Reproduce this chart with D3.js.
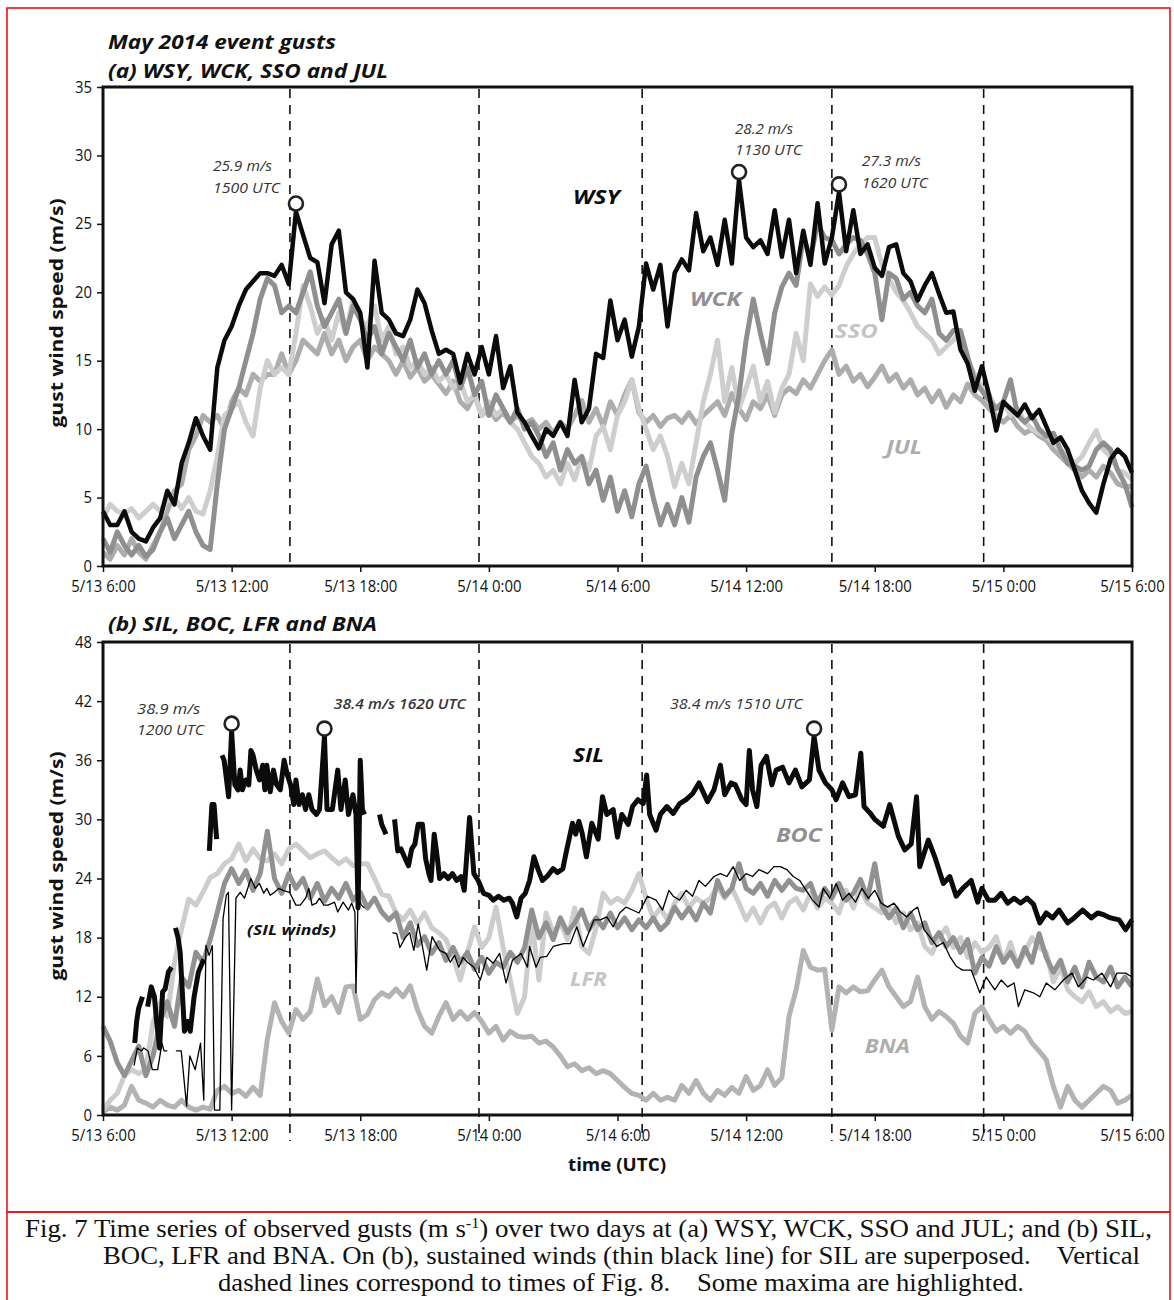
<!DOCTYPE html>
<html><head><meta charset="utf-8">
<script src="https://cdn.jsdelivr.net/npm/d3@7"></script>
<style>body{margin:0;background:#fff} svg{display:block}</style>
</head><body>
<svg id="c" width="1174" height="1300"></svg>
<script>
// ---------- DATA ----------
const timeLabels = ["5/13 6:00","5/13 12:00","5/13 18:00","5/14 0:00","5/14 6:00","5/14 12:00","5/14 18:00","5/15 0:00","5/15 6:00"];
const tickHours = [0,6,12,18,24,30,36,42,48];
const yTicksTop = [0,5,10,15,20,25,30,35];
const yTicksBot = [0,6,12,18,24,30,36,42,48];
const dashedHours = [8.72,17.54,25.15,34.0,41.08];
const stepHours = 1/3; // 20-minute samples, hours since 5/13 6:00 UTC

const wsy = [
4.0,3.0,3.0,4.0,2.5,2.0,1.8,2.8,3.5,5.5,4.5,7.5,
9.0,10.8,9.5,8.5,14.5,16.5,17.5,19.0,20.2,20.8,21.4,21.4,
21.2,22.0,20.6,25.9,24.2,22.5,22.2,19.2,23.5,24.5,20.0,19.5,
18.5,14.5,22.3,18.5,18.0,17.0,16.8,18.0,20.2,19.2,17.2,15.5,
15.8,15.5,13.4,15.5,14.0,16.0,14.0,16.8,13.0,14.6,11.2,10.5,
9.5,8.6,10.0,9.5,10.5,9.5,13.6,10.5,11.5,15.5,15.2,19.4,
16.5,18.0,15.3,17.5,22.1,20.2,22.0,17.5,21.4,22.4,21.6,25.8,
23.0,24.0,22.0,25.3,22.1,28.2,24.0,23.3,23.8,22.8,26.0,22.6,
25.3,21.4,24.5,22.0,26.5,22.1,24.0,27.3,23.0,26.0,22.8,23.5,
21.8,21.2,23.3,23.5,21.4,20.8,19.4,20.5,21.4,19.9,18.5,18.6,
15.8,14.8,12.8,14.6,12.5,9.9,12.0,11.5,11.0,11.8,10.8,11.4,
10.2,9.0,9.4,8.5,7.0,5.5,4.6,3.9,6.0,7.8,8.5,8.0,
6.8];
const wck = [
2.0,1.0,2.5,1.5,0.8,1.5,0.7,1.2,2.5,3.5,2.0,3.0,
4.0,2.5,1.5,1.2,6.0,10.0,11.5,13.0,15.0,17.0,19.5,21.0,
20.5,18.5,19.0,18.5,20.0,21.5,19.0,17.5,18.5,19.5,17.0,19.0,
18.0,16.5,17.5,15.5,17.0,16.0,15.0,16.5,14.5,15.5,14.0,15.0,
14.0,15.0,13.0,14.5,12.5,13.5,11.0,12.5,11.5,10.5,11.5,10.0,
10.5,9.5,8.0,9.0,7.0,8.5,7.5,8.0,6.0,7.0,4.8,6.5,
4.0,5.5,3.6,6.0,7.3,5.0,3.0,4.5,3.0,5.0,3.2,6.5,
8.0,9.0,7.0,4.8,9.7,12.5,16.5,19.5,17.0,14.8,18.5,20.4,
21.4,20.5,24.0,22.5,25.0,24.0,23.8,22.8,23.5,24.0,23.8,22.8,
21.4,18.0,21.4,21.0,19.5,20.0,19.0,18.5,19.5,17.0,16.5,17.2,
17.2,15.3,13.5,12.8,12.1,11.5,12.0,13.6,11.0,10.5,11.0,10.0,
9.5,9.7,8.5,7.5,7.3,7.0,7.3,8.5,9.0,8.5,7.0,6.0,
4.3];
const sso = [
3.5,4.5,4.0,3.8,4.2,3.5,4.0,4.5,4.0,4.8,5.0,4.2,
5.0,4.0,3.8,5.5,8.0,11.0,11.5,12.0,10.5,9.5,13.0,15.0,
14.0,14.5,14.0,17.0,20.5,19.0,17.0,18.0,16.5,18.5,17.0,19.5,
18.0,17.5,19.0,16.5,17.5,15.5,16.0,14.5,15.0,14.0,14.5,13.5,
14.0,13.0,13.5,12.0,12.5,11.0,12.0,11.0,11.5,10.5,10.0,9.0,
8.0,7.5,6.5,7.0,6.0,7.5,6.3,8.0,7.0,9.5,10.2,8.5,
11.0,12.0,13.6,11.5,10.0,8.5,9.5,8.0,5.8,7.5,6.0,9.0,
12.0,14.0,16.5,12.0,14.5,11.5,13.0,14.6,12.0,13.5,11.2,13.0,
14.0,17.0,15.0,20.6,19.7,20.4,19.8,20.5,21.9,22.8,23.5,24.0,
24.0,22.0,21.0,20.0,19.4,18.5,17.5,17.0,16.5,15.5,16.0,16.5,
17.2,15.0,14.0,13.0,12.5,11.5,12.0,11.0,11.5,10.5,10.0,9.7,
9.5,9.0,8.5,8.0,7.5,8.0,9.0,9.9,8.5,8.0,7.0,6.8,
6.3];
const jul = [
1.0,0.5,1.5,0.8,2.0,1.0,0.5,1.5,2.5,4.0,5.5,6.0,
8.5,9.5,11.0,10.5,11.0,10.0,12.0,13.0,12.5,14.0,13.5,14.0,
14.0,15.5,14.0,15.0,16.5,16.0,15.5,17.0,15.5,16.5,15.0,16.0,
16.5,15.0,16.0,15.5,15.0,14.0,15.0,13.8,14.5,13.5,14.0,13.3,
12.6,13.5,12.0,11.5,12.5,11.0,11.5,10.7,11.2,10.5,11.0,10.4,
10.7,10.0,10.5,9.7,10.5,10.0,11.0,12.1,10.5,11.5,10.2,12.0,
11.0,12.5,13.6,11.2,10.5,11.0,10.2,10.8,11.0,10.5,11.2,10.4,
11.0,11.5,12.0,11.0,12.6,11.5,10.7,12.0,11.5,12.5,11.0,12.5,
13.0,12.6,13.6,13.0,14.0,15.0,15.8,14.0,14.6,13.5,14.0,13.1,
13.8,14.6,13.5,14.0,13.0,13.6,12.5,13.0,12.0,12.8,11.6,12.5,
12.0,13.3,12.5,12.1,11.5,11.0,10.5,11.0,10.2,9.7,10.0,9.5,
9.2,8.5,8.0,7.5,7.0,6.5,7.0,6.5,7.3,6.8,6.0,5.8,
5.8];
const boc = [
9.0,7.5,5.3,4.0,5.5,7.0,4.0,6.0,9.5,11.5,9.0,14.0,
13.0,16.5,15.5,17.8,20.6,23.5,25.0,23.5,24.8,22.8,24.5,28.8,
24.0,22.5,24.5,23.0,24.0,22.0,23.5,21.7,23.0,22.0,23.5,21.8,
22.6,21.0,22.0,20.6,19.8,20.5,18.0,19.5,17.2,18.1,16.4,17.5,
15.7,17.0,15.5,16.5,14.8,16.0,14.4,15.5,15.0,16.5,15.5,17.0,
20.8,18.0,19.5,17.8,20.0,18.5,19.5,20.8,18.8,20.0,19.0,20.5,
19.0,20.0,18.8,19.8,19.0,20.0,18.8,19.5,21.1,20.0,21.0,19.8,
21.5,20.5,23.8,22.2,23.0,25.5,23.0,22.5,23.5,22.2,23.8,22.8,
23.8,23.0,22.8,23.5,21.5,23.0,22.0,23.5,21.8,22.5,23.9,22.0,
25.5,21.2,20.0,21.0,19.0,20.5,18.8,19.5,17.5,18.5,17.1,18.0,
16.5,17.8,14.4,16.0,15.1,17.1,15.5,16.5,15.1,17.0,15.5,18.4,
16.0,14.5,15.7,13.5,15.0,13.0,15.5,14.0,13.5,15.0,13.0,14.0,
13.0];
const lfr = [
0.5,1.5,2.2,4.0,4.6,4.2,4.6,9.4,11.4,10.0,15.5,18.9,
21.9,21.3,22.6,24.1,24.5,25.5,26.0,27.5,25.8,27.0,26.0,25.8,
26.5,25.5,27.0,27.5,26.8,26.1,26.5,26.8,26.1,25.5,26.0,25.3,
25.5,25.5,24.0,22.4,22.2,20.5,19.8,20.8,19.4,20.5,19.0,18.5,
17.8,16.0,13.7,16.5,19.1,17.0,18.0,21.1,17.0,13.7,10.3,12.0,
19.8,13.7,20.5,18.5,19.5,17.8,21.0,17.1,16.4,19.0,22.5,21.5,
22.0,21.5,22.8,24.5,22.0,20.0,21.0,19.8,21.5,22.5,21.0,22.0,
21.5,22.0,23.2,22.0,23.0,21.5,19.8,21.0,19.5,21.0,21.5,20.0,
21.5,22.0,20.8,22.5,21.0,22.0,21.5,20.5,22.8,21.0,23.0,21.5,
21.0,20.5,21.1,19.5,20.5,18.8,19.5,17.1,16.4,18.0,19.0,17.0,
18.0,16.0,17.5,16.5,17.0,18.1,15.5,17.5,15.1,16.5,18.0,17.0,
16.5,13.5,15.0,12.7,12.0,11.5,12.5,11.0,11.5,10.5,11.0,10.3,
10.5];
const bna = [
0.3,0.8,0.5,1.0,2.9,1.5,1.2,0.8,1.5,1.0,0.8,1.5,
0.8,0.5,0.8,0.6,2.5,2.9,2.2,2.5,1.9,2.8,2.0,7.7,
11.4,9.5,8.3,10.7,9.7,10.5,13.8,11.1,12.0,10.4,13.0,13.1,
9.7,10.2,11.7,12.4,12.0,12.8,12.0,13.1,10.7,9.0,8.3,10.0,
11.4,9.7,10.5,9.7,10.4,9.5,8.3,9.0,7.6,8.5,8.0,7.9,
8.0,7.3,7.5,6.9,6.0,4.9,5.2,4.5,4.8,4.2,4.5,4.2,
3.5,2.8,2.2,2.0,1.5,2.2,1.5,1.8,1.5,3.0,2.2,3.5,
2.2,1.5,2.5,2.0,2.8,2.2,3.9,2.5,3.0,4.6,3.0,3.8,
10.0,12.7,16.7,15.0,14.7,14.8,8.6,13.0,12.4,13.0,12.5,12.6,
13.7,14.7,13.0,12.0,11.0,11.5,14.0,11.0,9.7,10.5,10.0,9.3,
8.0,7.3,10.3,11.0,9.7,8.5,9.0,8.3,9.0,8.5,7.3,6.5,
5.6,2.9,0.8,2.9,1.5,0.8,1.5,2.2,2.9,2.5,1.2,1.5,
2.0];
// SIL gusts: [hour, m/s]; null marks a data gap
const silGust = [
[1.48,7.3],[1.57,9.5],[1.66,10.8],[1.84,12.0],[1.95,null],
[2.08,11.0],[2.25,13.0],[2.4,12.0],[2.5,9.5],[2.64,6.8],[2.78,12.5],[2.9,12.8],[3.05,14.5],[3.2,15.0],[3.3,null],
[3.38,19.0],[3.5,18.0],[3.6,16.5],[3.8,8.5],[3.95,9.5],[4.07,8.5],[4.25,12.0],[4.45,14.5],[4.7,15.8],[4.85,null],
[4.96,26.8],[5.08,31.5],[5.18,31.5],[5.3,28.0],[5.45,null],
[5.55,36.5],[5.65,36.0],[5.86,32.3],[6.0,38.9],[6.15,33.5],[6.3,33.0],[6.4,35.0],[6.5,33.0],[6.66,34.0],[6.8,33.5],[6.9,37.0],[7.0,36.5],[7.15,35.0],[7.3,34.0],[7.45,35.5],[7.55,33.0],[7.64,35.5],[7.8,32.8],[7.95,35.0],[8.1,33.5],[8.27,33.0],[8.45,36.0],[8.6,34.5],[8.75,33.5],[8.9,31.5],[9.0,34.0],[9.15,31.5],[9.3,32.5],[9.45,31.0],[9.6,32.5],[9.75,31.0],[9.96,30.5],[10.1,31.0],[10.33,38.4],[10.45,31.0],[10.7,31.0],[10.95,35.0],[11.1,31.0],[11.3,34.0],[11.45,30.5],[11.66,32.5],[11.8,30.5],[11.9,21.0],[12.0,36.0],[12.1,31.0],[12.2,30.5],[12.5,null],
[12.9,30.5],[13.0,29.5],[13.2,28.5],[13.4,null],
[13.6,30.0],[13.75,26.8],[13.9,27.0],[14.1,26.0],[14.25,25.3],[14.4,27.0],[14.55,27.5],[14.7,29.5],[14.9,29.5],[15.05,26.0],[15.2,24.5],[15.3,23.8],[15.45,28.5],[15.6,26.0],[15.7,24.0],[15.9,24.5],[16.1,24.0],[16.3,24.5],[16.5,23.8],[16.7,24.2],[16.85,22.8],[17.1,30.2],[17.3,24.5],[17.5,23.8],[17.75,22.5],[18.0,22.3],[18.2,21.8],[18.45,22.2],[18.7,21.8],[18.95,22.0],[19.1,21.5],[19.3,20.1],[19.5,22.0],[19.7,22.5],[19.9,23.8],[20.1,26.2],[20.3,24.9],[20.5,23.8],[20.75,24.3],[21.0,25.0],[21.2,24.6],[21.45,25.0],[21.6,26.6],[21.9,29.6],[22.05,28.5],[22.2,29.8],[22.35,28.6],[22.55,26.2],[22.8,29.6],[23.1,28.0],[23.3,32.3],[23.5,30.5],[23.8,31.0],[24.0,28.2],[24.2,30.5],[24.5,29.5],[24.7,31.3],[24.95,32.0],[25.2,31.6],[25.36,34.5],[25.5,30.5],[25.8,28.9],[26.0,30.5],[26.3,31.3],[26.6,30.6],[26.9,31.6],[27.2,32.0],[27.5,32.6],[27.8,33.7],[28.2,31.8],[28.5,33.0],[28.8,35.5],[29.0,32.5],[29.3,33.7],[29.5,33.5],[29.8,32.0],[30.0,31.5],[30.15,37.0],[30.3,33.0],[30.5,31.3],[30.7,35.5],[30.95,36.4],[31.2,33.5],[31.4,35.0],[31.7,35.3],[32.0,33.7],[32.3,35.0],[32.6,33.3],[32.95,34.0],[33.17,38.4],[33.4,35.0],[33.7,33.7],[34.0,33.0],[34.2,32.0],[34.5,33.7],[34.8,32.3],[35.1,32.5],[35.35,36.7],[35.5,31.3],[35.8,30.6],[36.0,30.0],[36.4,29.3],[36.7,31.5],[37.1,28.3],[37.4,26.9],[37.7,27.5],[37.95,32.3],[38.1,25.2],[38.5,27.9],[38.8,26.2],[39.2,23.5],[39.5,24.2],[39.8,22.2],[40.1,23.0],[40.5,23.8],[40.8,21.6],[41.0,23.0],[41.3,21.8],[41.6,21.8],[41.9,22.5],[42.2,21.5],[42.5,22.0],[42.8,21.5],[43.1,22.0],[43.4,21.4],[43.7,19.5],[44.0,20.5],[44.3,20.0],[44.6,20.8],[45.0,19.5],[45.3,20.0],[45.7,20.8],[46.1,20.0],[46.4,20.5],[46.7,20.3],[47.0,20.0],[47.4,19.8],[47.7,18.8],[48.0,19.8]];
// SIL sustained winds: [hour, m/s]
const silWind = [
[1.45,5.0],[1.6,6.8],[1.8,6.5],[1.9,6.8],[2.1,6.5],[2.3,4.6],[2.55,4.6],[2.75,7.3],[2.85,6.5],[3.0,6.5],[3.2,null],
[3.4,6.5],[3.65,6.5],[3.9,0.9],[4.05,6.0],[4.3,4.6],[4.55,7.3],[4.7,1.5],[4.8,17.2],[4.95,16.2],[5.1,17.2],[5.2,0.5],[5.45,0.5],[5.6,19.9],[5.75,22.3],[5.85,22.6],[6.0,0.5],[6.2,22.0],[6.4,22.6],[6.6,22.0],[6.9,24.0],[7.1,23.0],[7.3,23.5],[7.5,22.5],[7.64,23.0],[7.8,22.3],[8.0,22.6],[8.2,23.0],[8.4,22.8],[8.7,22.6],[9.0,21.3],[9.2,21.3],[9.45,22.0],[9.6,23.0],[9.75,21.3],[9.95,21.5],[10.1,22.0],[10.3,21.3],[10.5,21.3],[10.8,21.6],[10.95,20.6],[11.2,21.6],[11.45,20.8],[11.6,21.5],[11.75,20.6],[11.8,12.4],[11.9,22.3],[12.05,21.3],[12.2,21.0],[12.6,null],
[13.5,18.5],[13.7,18.4],[13.85,17.0],[14.1,18.0],[14.3,18.5],[14.5,16.7],[14.7,19.4],[14.9,17.1],[15.1,14.7],[15.35,18.1],[15.7,16.7],[16.0,16.4],[16.2,15.5],[16.4,16.2],[16.6,15.0],[16.8,16.0],[17.0,15.5],[17.3,15.0],[17.6,13.7],[17.9,16.0],[18.2,15.4],[18.5,16.4],[18.8,13.4],[19.1,15.7],[19.5,16.4],[19.8,15.0],[19.9,17.1],[20.2,15.0],[20.4,16.0],[20.7,16.1],[21.0,17.1],[21.5,17.4],[21.8,17.4],[22.1,19.1],[22.4,17.1],[22.9,19.8],[23.2,19.8],[23.5,20.1],[23.8,19.1],[24.1,20.5],[24.4,21.1],[24.7,20.8],[25.0,20.5],[25.4,22.2],[25.8,21.8],[26.1,20.8],[26.4,22.8],[26.6,22.2],[26.9,21.8],[27.2,22.8],[27.5,22.2],[27.8,23.8],[28.1,23.2],[28.5,24.2],[28.8,24.5],[29.1,24.2],[29.4,25.2],[29.7,23.8],[30.0,24.5],[30.3,24.2],[30.6,24.9],[31.0,24.5],[31.3,25.2],[31.6,25.2],[31.9,24.9],[32.2,24.2],[32.5,23.8],[32.8,22.8],[33.1,21.8],[33.4,21.1],[33.6,23.0],[33.9,22.0],[34.2,23.5],[34.5,21.8],[34.8,22.5],[35.1,21.6],[35.4,23.0],[35.7,22.0],[36.0,22.8],[36.3,21.5],[36.6,21.1],[36.9,21.5],[37.2,20.6],[37.5,20.1],[37.8,20.8],[38.0,21.1],[38.3,18.8],[38.6,18.0],[38.9,17.1],[39.2,17.5],[39.5,16.1],[39.8,15.1],[40.1,14.7],[40.5,14.7],[40.9,12.4],[41.2,14.0],[41.6,12.7],[41.9,13.7],[42.2,13.0],[42.5,13.4],[42.7,11.0],[43.0,12.7],[43.4,12.4],[43.7,12.0],[44.0,13.4],[44.4,12.7],[44.8,13.7],[45.2,14.4],[45.5,13.0],[45.9,14.0],[46.2,13.7],[46.6,14.4],[47.0,13.0],[47.3,14.4],[47.7,14.4],[48.0,14.0]];

const peakHoursTop = [9, 29.67, 34.33];
const peakHoursBot = [6.0, 10.33, 33.17];

// ---------- LAYOUT ----------
const svg = d3.select("#c");
const FONT = "'Open Sans', 'Noto Sans', sans-serif";
const x = d3.scaleLinear().domain([0,48]).range([103,1132]);
const yTop = d3.scaleLinear().domain([0,35]).range([566,87]);
const yBot = d3.scaleLinear().domain([0,48]).range([1115,642]);

// red frame
svg.append("rect").attr("x",7).attr("y",8).attr("width",1163).attr("height",1204)
  .attr("fill","none").attr("stroke","#e8141b").attr("stroke-width",1.6);
svg.append("rect").attr("x",7).attr("y",1212).attr("width",1163).attr("height",120)
  .attr("fill","none").attr("stroke","#e8141b").attr("stroke-width",1.6);

const gridSeries = arr => arr.map((v,i)=>({h:i*stepHours, v}));
const pairSeries = arr => arr.map(d=>({h:d[0], v:d[1]}));

function squeeze(sel, f){
  sel.each(function(){ const w=this.getComputedTextLength(); d3.select(this).attr("textLength",w*f).attr("lengthAdjust","spacingAndGlyphs"); });
}

function panel(y, yTicks, series, dashExtend) {
  const g = svg.append("g");
  const [y0, y1] = y.range();
  g.selectAll("line.dash").data(dashedHours).join("line")
    .attr("x1",d=>x(d)).attr("x2",d=>x(d))
    .attr("y1",y1+2).attr("y2",y0+dashExtend)
    .attr("stroke","#111").attr("stroke-width",1.6).attr("stroke-dasharray","9,7");
  series.forEach(s=>{
    const line = d3.line().defined(d=>d.v!==null).x(d=>x(d.h)).y(d=>y(d.v));
    g.append("path").datum(s.data).attr("d",line).attr("fill","none")
      .attr("stroke",s.color).attr("stroke-width",s.w)
      .attr("stroke-linejoin","round").attr("stroke-linecap","butt");
  });
  g.append("rect").attr("x",x(0)).attr("y",y1).attr("width",x(48)-x(0)).attr("height",y0-y1)
    .attr("fill","none").attr("stroke","#111").attr("stroke-width",3);
  const ax = g.append("g").attr("transform",`translate(0,${y0})`)
    .call(d3.axisBottom(x).tickValues(tickHours).tickFormat((d,i)=>timeLabels[i]).tickSize(6).tickSizeOuter(0));
  ax.select(".domain").remove();
  ax.selectAll("line").attr("stroke","#111").attr("stroke-width",1.5);
  ax.selectAll("text").attr("font-family",FONT).attr("font-size",16).attr("fill","#111")
    .attr("dy",null).attr("y",26);
  squeeze(ax.selectAll("text"),0.93);
  const ay = g.append("g").attr("transform",`translate(${x(0)},0)`)
    .call(d3.axisLeft(y).tickValues(yTicks).tickFormat(d3.format("d")).tickSize(6).tickSizeOuter(0));
  ay.select(".domain").remove();
  ay.selectAll("line").attr("stroke","#111").attr("stroke-width",1.5);
  ay.selectAll("text").attr("font-family",FONT).attr("font-size",16).attr("fill","#111").attr("x",-11);
  squeeze(ay.selectAll("text"),0.93);
  return g;
}

const gTop = panel(yTop, yTicksTop, [
  {data:gridSeries(jul), color:"#adadad", w:5},
  {data:gridSeries(sso), color:"#cecece", w:5},
  {data:gridSeries(wck), color:"#8f8f8f", w:5},
  {data:gridSeries(wsy), color:"#0b0b0b", w:4.5}
], 0);
const gBot = panel(yBot, yTicksBot, [
  {data:gridSeries(bna), color:"#b3b3b3", w:5},
  {data:gridSeries(lfr), color:"#cdcdcd", w:5},
  {data:gridSeries(boc), color:"#919191", w:5},
  {data:pairSeries(silWind), color:"#000", w:1.3},
  {data:pairSeries(silGust), color:"#0b0b0b", w:5}
], 26);

function circles(g, y, pts){
  g.selectAll("circle.pk").data(pts).join("circle")
   .attr("cx",d=>x(d.h)).attr("cy",d=>y(d.v)-8).attr("r",7)
   .attr("fill","#fff").attr("stroke","#222").attr("stroke-width",2.6);
}
circles(gTop, yTop, peakHoursTop.map(h=>({h, v: wsy[Math.round(h/stepHours)]})));
circles(gBot, yBot, peakHoursBot.map(h=>{const p=silGust.find(d=>Math.abs(d[0]-h)<0.02); return {h, v:p[1]};}));

// ---------- TEXT ----------
function txt(str, px, py, o){
  const t = svg.append("text").attr("x",px).attr("y",py).text(str)
    .attr("font-family",FONT).attr("font-size",o.size).attr("fill",o.fill||"#111")
    .attr("font-weight",o.weight||"normal").attr("font-style",o.style||"normal");
  if(o.len) t.attr("textLength",o.len).attr("lengthAdjust","spacingAndGlyphs");
  if(o.anchor) t.attr("text-anchor",o.anchor);
  return t;
}
txt("May 2014 event gusts",108,49,{size:20,weight:"bold",style:"italic",len:228});
txt("(a) WSY, WCK, SSO and JUL",108,78,{size:20,weight:"bold",style:"italic",len:280});
txt("(b) SIL, BOC, LFR and BNA",108,631,{size:20,weight:"bold",style:"italic",len:269});

const annTop = [
  {s:"25.9 m/s",h:5.13,v:28.85,len:59},{s:"1500 UTC",h:5.13,v:27.25,len:67},
  {s:"28.2 m/s",h:29.48,v:31.6,len:58},{s:"1130 UTC",h:29.48,v:30.05,len:67},
  {s:"27.3 m/s",h:35.4,v:29.2,len:59},{s:"1620 UTC",h:35.4,v:27.6,len:66}];
annTop.forEach(a=>txt(a.s,x(a.h),yTop(a.v),{size:14,style:"italic",fill:"#333",len:a.len}));
const annBot = [
  {s:"38.9  m/s",h:1.59,v:40.7,len:63},{s:"1200 UTC",h:1.59,v:38.55,len:67},
  {s:"38.4  m/s 1620 UTC",h:10.77,v:41.2,len:132,w:"600"},
  {s:"38.4  m/s 1510 UTC",h:26.45,v:41.2,len:133}];
annBot.forEach(a=>txt(a.s,x(a.h),yBot(a.v),{size:14,style:"italic",fill:"#333",len:a.len,weight:a.w}));

const namesTop = [
  {s:"WSY",h:21.92,v:26.45,c:"#0b0b0b",len:47},
  {s:"WCK",h:27.38,v:19.0,c:"#8f8f8f",len:51},
  {s:"SSO",h:34.14,v:16.65,c:"#c4c4c4",len:43},
  {s:"JUL",h:36.52,v:8.2,c:"#adadad",len:36}];
namesTop.forEach(a=>txt(a.s,x(a.h),yTop(a.v),{size:20,weight:"bold",style:"italic",fill:a.c,len:a.len}));
const namesBot = [
  {s:"SIL",h:21.92,v:35.8,c:"#0b0b0b",len:31},
  {s:"BOC",h:31.39,v:27.7,c:"#8f8f8f",len:46},
  {s:"LFR",h:21.78,v:13.1,c:"#c4c4c4",len:37},
  {s:"BNA",h:35.54,v:6.3,c:"#adadad",len:45}];
namesBot.forEach(a=>txt(a.s,x(a.h),yBot(a.v),{size:20,weight:"bold",style:"italic",fill:a.c,len:a.len}));
txt("(SIL winds)",x(6.72),yBot(18.3),{size:15,weight:"bold",style:"italic",len:89});

[313,866].forEach(cy=>{
  svg.append("text").attr("transform",`translate(63,${cy}) rotate(-90)`)
    .attr("text-anchor","middle").attr("font-family",FONT).attr("font-weight","bold")
    .attr("font-size",17).attr("fill","#111").attr("textLength",229).attr("lengthAdjust","spacingAndGlyphs")
    .text("gust wind speed (m/s)");
});
txt("time (UTC)",617,1171,{size:17,weight:"bold",anchor:"middle",len:98});

// caption
const capStyle = "font-family:'Liberation Serif','Times New Roman',Times,serif";
const c1 = svg.append("text").attr("x",25).attr("y",1237).attr("style",capStyle).attr("font-size",25).attr("fill","#111")
  .attr("textLength",1127).attr("lengthAdjust","spacingAndGlyphs");
c1.append("tspan").text("Fig. 7 Time series of observed gusts (m s");
c1.append("tspan").attr("dy",-9).attr("font-size",15).text("-1");
c1.append("tspan").attr("dy",9).text(") over two days at (a) WSY, WCK, SSO and JUL; and (b) SIL,");
svg.append("text").attr("x",103).attr("y",1264).attr("style",capStyle).attr("font-size",25).attr("fill","#111")
  .attr("textLength",1037).attr("lengthAdjust","spacingAndGlyphs").attr("xml:space","preserve")
  .text("BOC, LFR and BNA. On (b), sustained winds (thin black line) for SIL are superposed.    Vertical");
svg.append("text").attr("x",218).attr("y",1291).attr("style",capStyle).attr("font-size",25).attr("fill","#111")
  .attr("textLength",806).attr("lengthAdjust","spacingAndGlyphs").attr("xml:space","preserve")
  .text("dashed lines correspond to times of Fig. 8.    Some maxima are highlighted.");
</script>
</body></html>
